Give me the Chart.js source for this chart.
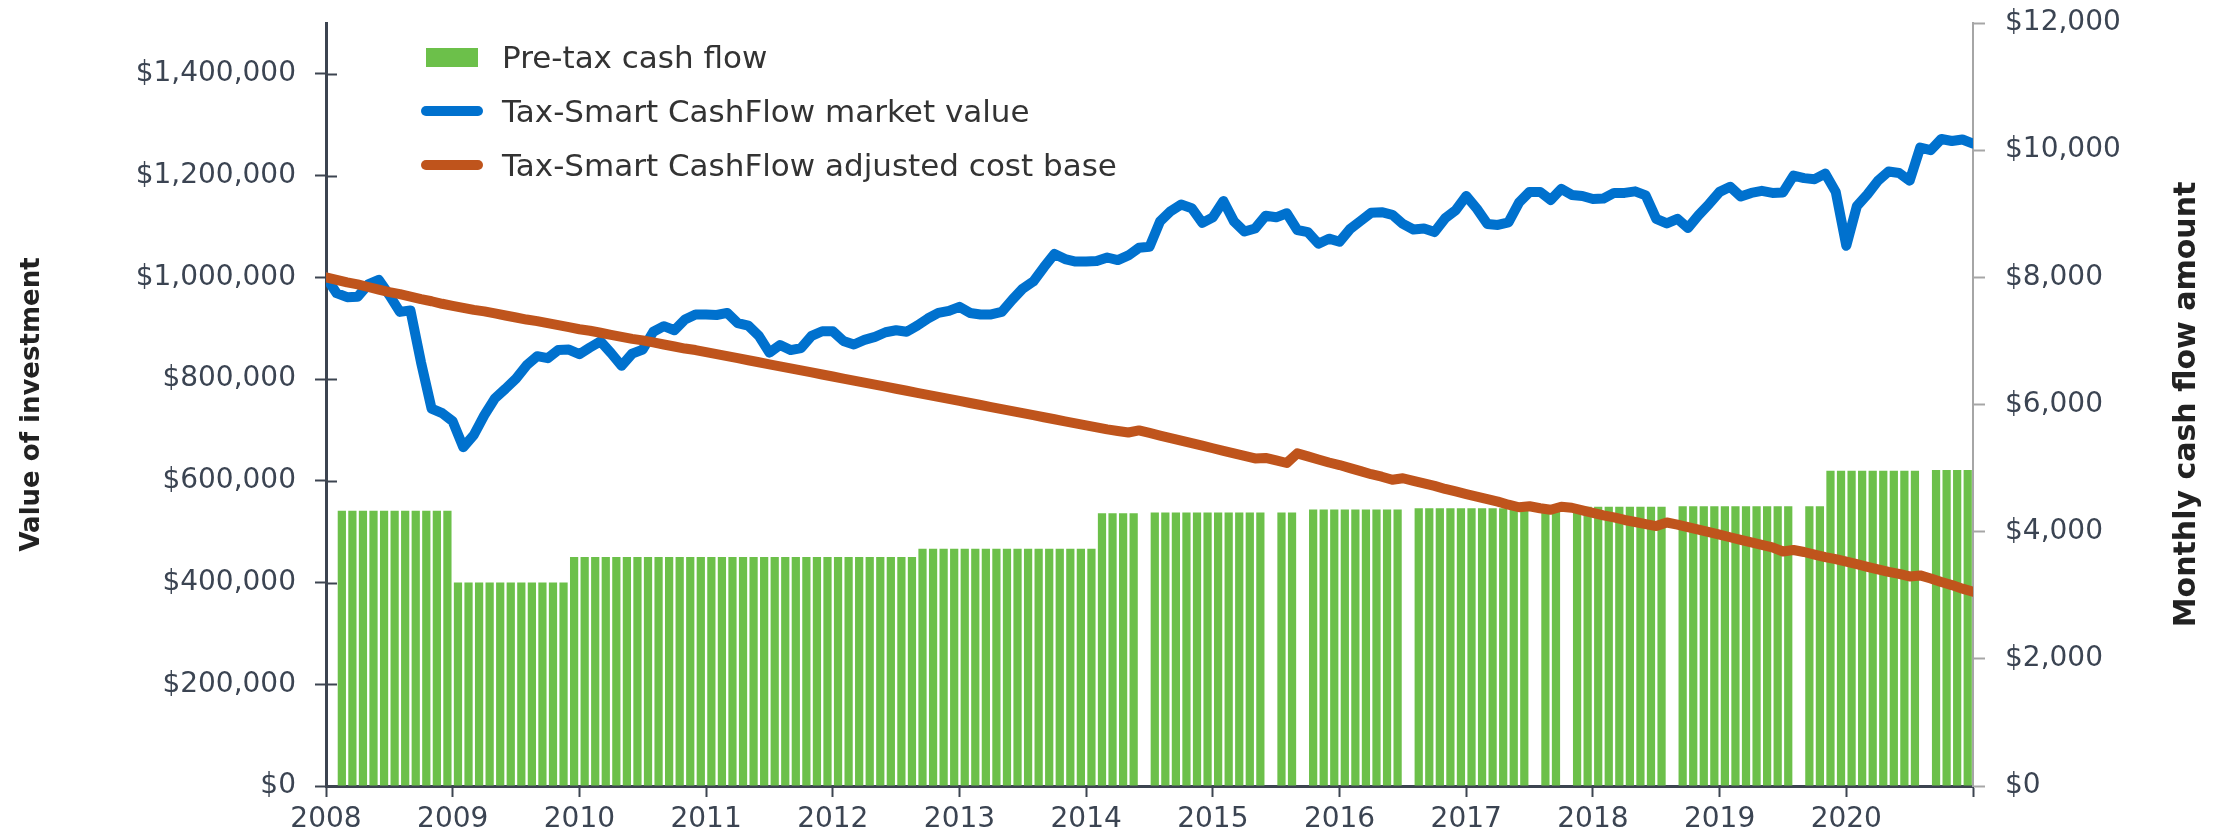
<!DOCTYPE html>
<html>
<head>
<meta charset="utf-8">
<title>Tax-Smart CashFlow</title>
<script src="https://cdn.jsdelivr.net/npm/chart.js@4.4.1/dist/chart.umd.min.js"></script>
<style>
  html, body { margin: 0; padding: 0; background: #fff; }
  #wrap { position: relative; width: 2223px; height: 833px; }
  #legend {
    position: absolute; left: 421px; top: 30px;
    font-family: "DejaVu Sans", sans-serif; font-size: 31px; color: #333;
  }
  #legend .item { display: flex; align-items: center; height: 54px; white-space: nowrap; }
  #legend .key { width: 62px; margin-right: 19px; display: flex; justify-content: center; align-items: center; }
  #legend .box { width: 52px; height: 19px; }
  #legend .line { width: 62px; height: 10px; border-radius: 5px; }
</style>
</head>
<body>
<div id="wrap">
  <canvas id="chart" width="2223" height="833"></canvas>
  <div id="legend"></div>
</div>
<script>
const GREEN = "#6cc04a";
const BLUE = "#0071ce";
const ORANGE = "#bf541c";
const AXIS = "#3c4450";
const TEXT = "#3b4452";
const FONT = '"DejaVu Sans", sans-serif';

const yearLabels = ["2008", "2009", "2010", "2011", "2012", "2013", "2014",
                    "2015", "2016", "2017", "2018", "2019", "2020"];
const leftTicks = [0, 200000, 400000, 600000, 800000, 1000000, 1200000, 1400000];
const rightTicks = [0, 2000, 4000, 6000, 8000, 10000, 12000];

// monthly pre-tax cash flow, Jan 2008 .. Dec 2020 (null = no payment)
const cashFlow = [
  null, 4330, 4330, 4330, 4330, 4330, 4330, 4330, 4330, 4330, 4330, 4330,
  3200, 3200, 3200, 3200, 3200, 3200, 3200, 3200, 3200, 3200, 3200, 3600,
  3600, 3600, 3600, 3600, 3600, 3600, 3600, 3600, 3600, 3600, 3600, 3600,
  3600, 3600, 3600, 3600, 3600, 3600, 3600, 3600, 3600, 3600, 3600, 3600,
  3600, 3600, 3600, 3600, 3600, 3600, 3600, 3600, 3730, 3730, 3730, 3730,
  3730, 3730, 3730, 3730, 3730, 3730, 3730, 3730, 3730, 3730, 3730, 3730,
  3730, 4290, 4290, 4290, 4290, null, 4300, 4300, 4300, 4300, 4300, 4300,
  4300, 4300, 4300, 4300, 4300, null, 4300, 4300, null, 4350, 4350, 4350,
  4350, 4350, 4350, 4350, 4350, 4350, null, 4370, 4370, 4370, 4370, 4370,
  4370, 4370, 4370, 4370, 4370, 4370, null, 4390, 4390, null, 4390, 4390,
  4390, 4390, 4390, 4390, 4390, 4390, 4390, null, 4400, 4400, 4400, 4400,
  4400, 4400, 4400, 4400, 4400, 4400, 4400, null, 4400, 4400, 4960, 4960,
  4960, 4960, 4960, 4960, 4960, 4960, 4960, null, 4970, 4970, 4970, 4970
];

// month-start values, Jan 2008 .. Jan 2021
const marketValue = [
  1000000, 969000, 961000, 962000, 986000, 995000, 965000, 932000, 935000, 833000, 742000, 733000,
  717000, 666000, 690000, 729000, 762000, 781000, 801000, 827000, 845000, 841000, 857000, 858000,
  849000, 862000, 874000, 851000, 826000, 850000, 858000, 893000, 904000, 896000, 917000, 927000,
  927000, 926000, 930000, 910000, 905000, 885000, 852000, 867000, 857000, 861000, 885000, 894000,
  894000, 875000, 868000, 877000, 883000, 892000, 896000, 893000, 905000, 919000, 930000, 934000,
  942000, 930000, 927000, 927000, 932000, 956000, 978000, 992000, 1020000, 1046000, 1036000, 1031000,
  1031000, 1032000, 1039000, 1034000, 1043000, 1058000, 1060000, 1110000, 1130000, 1143000, 1136000, 1107000,
  1118000, 1150000, 1110000, 1090000, 1096000, 1121000, 1118000, 1126000, 1093000, 1089000, 1066000, 1076000,
  1070000, 1095000, 1111000, 1127000, 1128000, 1123000, 1105000, 1094000, 1096000, 1089000, 1116000, 1132000,
  1160000, 1135000, 1105000, 1103000, 1108000, 1147000, 1168000, 1168000, 1152000, 1174000, 1162000, 1160000,
  1154000, 1155000, 1166000, 1166000, 1169000, 1161000, 1115000, 1106000, 1115000, 1097000, 1122000, 1144000,
  1168000, 1178000, 1159000, 1166000, 1170000, 1166000, 1167000, 1200000, 1195000, 1193000, 1204000, 1168000,
  1062000, 1140000, 1163000, 1190000, 1208000, 1205000, 1190000, 1255000, 1250000, 1272000, 1268000, 1271000,
  1263000
];

const costBase = [
  1000000, 995000, 990000, 986000, 981000, 976000, 971000, 967000, 962000, 957000, 953000, 948000,
  944000, 940000, 936000, 933000, 929000, 925000, 921000, 917000, 914000, 910000, 906000, 902000,
  898000, 895000, 891000, 887000, 883000, 879000, 876000, 872000, 868000, 864000, 860000, 857000,
  853000, 849000, 845000, 841000, 837000, 833000, 829000, 825000, 821000, 817000, 813000, 809000,
  805000, 801000, 797000, 793000, 789000, 785000, 781000, 777000, 773000, 769000, 765000, 761000,
  757000, 753000, 749000, 745000, 741000, 737000, 733000, 729000, 725000, 721000, 717000, 713000,
  709000, 705000, 701000, 698000, 695000, 699000, 694000, 689000, 684000, 679000, 674000, 669000,
  664000, 659000, 654000, 649000, 644000, 645000, 640000, 635000, 654000, 648000, 642000, 636000,
  631000, 625000, 619000, 613000, 608000, 602000, 605000, 600000, 595000, 590000, 584000, 579000,
  574000, 569000, 564000, 559000, 553000, 548000, 550000, 546000, 543000, 549000, 547000, 542000,
  537000, 532000, 528000, 523000, 519000, 515000, 511000, 518000, 514000, 509000, 504000, 499000,
  494000, 489000, 484000, 479000, 474000, 469000, 461000, 464000, 460000, 455000, 450000, 446000,
  441000, 436000, 431000, 426000, 421000, 417000, 412000, 414000, 408000, 401000, 395000, 388000,
  382000
];

function money(v) {
  return "$" + Number(v).toLocaleString("en-US");
}

// fixed plot box: scales take exactly the room the reference gives them
function fixWidth(w) {
  return s => {
    s.width = w;
    s.paddingTop = 0;
    s.paddingBottom = 0;
  };
}

// legend built from the chart's own datasets
const htmlLegend = {
  id: "htmlLegend",
  afterUpdate(chart) {
    const box = document.getElementById("legend");
    box.innerHTML = "";
    chart.data.datasets.forEach(ds => {
      const row = document.createElement("div");
      row.className = "item";
      const key = document.createElement("span");
      key.className = "key";
      const mark = document.createElement("span");
      mark.className = ds.type === "bar" ? "box" : "line";
      mark.style.background = ds.type === "bar" ? ds.backgroundColor : ds.borderColor;
      key.appendChild(mark);
      const txt = document.createElement("span");
      txt.textContent = ds.label;
      row.appendChild(key);
      row.appendChild(txt);
      box.appendChild(row);
    });
  }
};

// left axis ticks cross the axis line: draw the inner half
const innerTicks = {
  id: "innerTicks",
  beforeDatasetsDraw(chart) {
    const s = chart.scales.y;
    const c = chart.ctx;
    c.save();
    c.strokeStyle = AXIS;
    c.lineWidth = 2;
    s.ticks.forEach(t => {
      const py = Math.round(s.getPixelForValue(t.value)) + 0.5;
      c.beginPath();
      c.moveTo(s.right, py);
      c.lineTo(s.right + 11, py);
      c.stroke();
    });
    c.restore();
  }
};

// right axis title reads bottom-to-top like the left one
const rightTitle = {
  id: "rightTitle",
  afterDraw(chart) {
    const s = chart.scales.y1;
    const c = chart.ctx;
    c.save();
    c.translate(s.right - 36, (s.top + s.bottom) / 2);
    c.rotate(-Math.PI / 2);
    c.font = "bold 30px " + FONT;
    c.fillStyle = "#222";
    c.textAlign = "center";
    c.textBaseline = "middle";
    c.fillText("Monthly cash flow amount", 0, 0);
    c.restore();
  }
};

Chart.defaults.font.family = FONT;
Chart.defaults.color = TEXT;

new Chart(document.getElementById("chart"), {
  data: {
    datasets: [
      {
        type: "bar",
        label: "Pre-tax cash flow",
        data: cashFlow.map((v, i) => ({ x: i + 0.5, y: v })),
        yAxisID: "y1",
        backgroundColor: GREEN,
        barPercentage: 0.78,
        categoryPercentage: 1,
        order: 3
      },
      {
        type: "line",
        label: "Tax-Smart CashFlow market value",
        data: marketValue.map((v, i) => ({ x: i, y: v })),
        yAxisID: "y",
        borderColor: BLUE,
        backgroundColor: BLUE,
        borderWidth: 10,
        borderJoinStyle: "round",
        borderCapStyle: "round",
        pointRadius: 0,
        tension: 0,
        order: 2
      },
      {
        type: "line",
        label: "Tax-Smart CashFlow adjusted cost base",
        data: costBase.map((v, i) => ({ x: i, y: v })),
        yAxisID: "y",
        borderColor: ORANGE,
        backgroundColor: ORANGE,
        borderWidth: 10,
        borderJoinStyle: "round",
        borderCapStyle: "round",
        pointRadius: 0,
        tension: 0,
        order: 1
      }
    ]
  },
  options: {
    responsive: false,
    animation: false,
    devicePixelRatio: 1,
    layout: { padding: { top: 23, right: 0, bottom: 0, left: 0 } },
    plugins: {
      legend: { display: false },
      tooltip: { enabled: false }
    },
    scales: {
      x: {
        type: "linear",
        min: 0,
        max: 156,
        offset: false,
        afterFit: s => { s.height = 47; },
        grid: { offset: false, drawOnChartArea: false, tickLength: 11, tickWidth: 2, tickColor: AXIS },
        border: { color: AXIS, width: 3 },
        ticks: {
          stepSize: 12,
          autoSkip: false,
          maxRotation: 0,
          padding: 6,
          font: { size: 28 },
          color: TEXT,
          callback: v => yearLabels[v / 12] || ""
        }
      },
      y: {
        type: "linear",
        position: "left",
        min: 0,
        max: 1500000,
        afterFit: fixWidth(326),
        afterBuildTicks: s => { s.ticks = leftTicks.map(v => ({ value: v })); },
        grid: { drawOnChartArea: false, tickLength: 11, tickWidth: 2, tickColor: AXIS },
        border: { color: AXIS, width: 3 },
        ticks: {
          autoSkip: false,
          padding: 19,
          font: { size: 28 },
          color: TEXT,
          callback: v => money(v)
        },
        title: {
          display: true,
          text: "Value of investment",
          color: "#222",
          font: { size: 26, weight: "bold" },
          padding: { top: 17, bottom: 0 }
        }
      },
      y1: {
        type: "linear",
        position: "right",
        min: 0,
        max: 12000,
        afterFit: fixWidth(250),
        afterBuildTicks: s => { s.ticks = rightTicks.map(v => ({ value: v })); },
        grid: { drawOnChartArea: false, tickLength: 12, tickWidth: 2, tickColor: "#a6a6a6" },
        border: { color: "#a6a6a6", width: 2 },
        ticks: {
          autoSkip: false,
          padding: 20,
          font: { size: 28 },
          color: TEXT,
          callback: v => money(v)
        }
      }
    }
  },
  plugins: [htmlLegend, innerTicks, rightTitle]
});
</script>
</body>
</html>
